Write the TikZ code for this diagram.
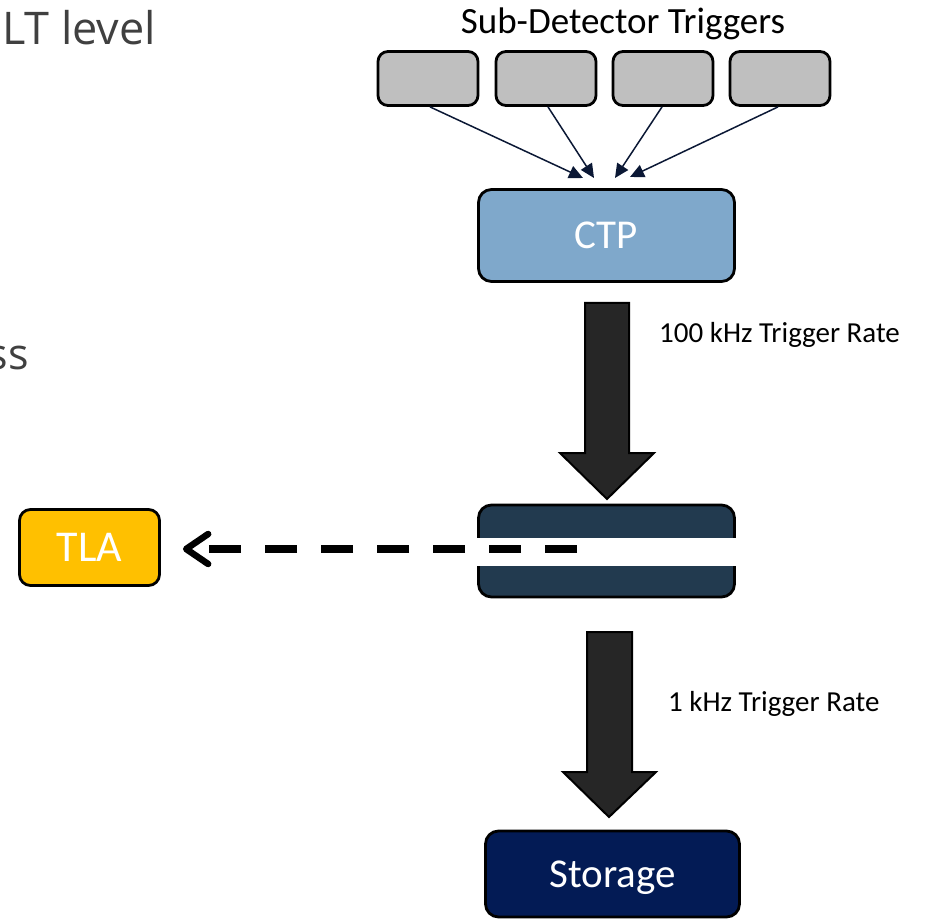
\documentclass[tikz,border=0pt]{standalone}
\usepackage{fontspec}
\setmainfont{Carlito}
\newfontfamily\slidefont{Open Sans}
\usetikzlibrary{arrows.meta}
\definecolor{subgray}{HTML}{BFBFBF}
\definecolor{ctpblue}{HTML}{7FA8CB}
\definecolor{hltslate}{HTML}{223A4F}
\definecolor{tlagold}{HTML}{FFC000}
\definecolor{storenavy}{HTML}{031B55}
\definecolor{bigarrow}{HTML}{262626}
\definecolor{linknavy}{HTML}{0B1835}
\definecolor{slidegray}{HTML}{404040}
\tikzset{
  boxbase/.style={draw=black, line width=2.8pt, rounded corners=13pt, inner sep=0pt},
  subbox/.style={boxbase, fill=subgray, minimum width=100pt, minimum height=54pt, rounded corners=10pt},
  bigbox/.style={boxbase, minimum width=256pt, minimum height=92pt, text=white, font=\fontsize{41}{44}\selectfont},
  link/.style={draw=linknavy, line width=1.5pt, -{Triangle[length=14pt,width=13pt]}},
  blockarrow/.style={fill=bigarrow, draw=black, line width=2pt, line join=miter},
  ratelabel/.style={font=\fontsize{29}{32}\selectfont, inner sep=0pt},
  dashlink/.style={draw=black, line width=7.5pt, dash pattern=on 32pt off 24pt,
     -{Straight Barb[length=22pt,width=30pt,line width=6.5pt,line cap=round,line join=round]}}
}
\begin{document}
\begin{tikzpicture}[x=1pt,y=-1pt]
\useasboundingbox (0,0) rectangle (930,920);
% cut-off slide text
\node[anchor=base west, inner sep=0pt, text=slidegray, font=\slidefont\fontsize{45}{48}\selectfont] (lt) at (2,45) {LT level};
\node[anchor=base east, inner sep=0pt, text=slidegray, font=\slidefont\fontsize{43}{46}\selectfont] (ss) at (29,370) {ss};
% title
\node[anchor=base, inner sep=0pt, font=\fontsize{37}{40}\selectfont] (title) at (623,34) {Sub-Detector Triggers};
% sub-detector boxes
\node[subbox] (s1) at (428,78.5) {};
\node[subbox] (s2) at (546,78.5) {};
\node[subbox] (s3) at (663,78.5) {};
\node[subbox] (s4) at (780,78.5) {};
% main boxes
\node[bigbox, fill=ctpblue] (ctp) at (606.5,235.5) {CTP};
\node[bigbox, fill=hltslate] (hlt) at (606.5,551) {};
\fill[white] (475,538) rectangle (738,566);
\node[boxbase, fill=tlagold, minimum width=140pt, minimum height=76pt, rounded corners=11pt, text=white, font=\fontsize{44}{47}\selectfont] (tla) at (89.5,547.5) {TLA};
\node[bigbox, fill=storenavy, minimum width=254pt, minimum height=86pt, text depth=0pt] (store) at (612.5,874) {Storage};
% thin links
\coordinate (t1) at (583,178);
\coordinate (t2) at (594,178);
\coordinate (t3) at (615,178);
\coordinate (t4) at (630,177);
\draw[link] ([xshift=2pt]s1.south) -- (t1);
\draw[link] ([xshift=2pt]s2.south) -- (t2);
\draw[link] ([xshift=-1pt]s3.south) -- (t3);
\draw[link] ([xshift=-2pt]s4.south) -- (t4);
% block arrows
\draw[blockarrow] (585,303) -- (629,303) -- (629,453) -- (654,453) -- (607,499) -- (560,453) -- (585,453) -- cycle;
\draw[blockarrow] (587,632) -- (632,632) -- (632,772) -- (656,772) -- (609,817) -- (563,772) -- (587,772) -- cycle;
\node[ratelabel, anchor=base west] (r1) at (659,342) {100 kHz Trigger Rate};
\node[ratelabel, anchor=base west] (r2) at (668,711) {1 kHz Trigger Rate};
% dashed link to TLA
\coordinate (dstart) at (577,549);
\draw[dashlink] (dstart) -- ([xshift=22pt]tla.east |- dstart);
\end{tikzpicture}
\end{document}
